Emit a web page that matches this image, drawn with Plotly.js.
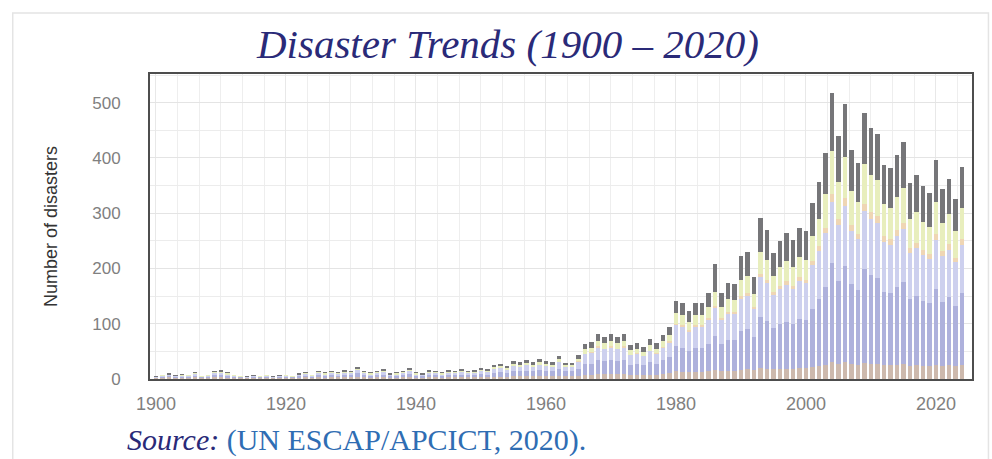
<!DOCTYPE html>
<html>
<head>
<meta charset="utf-8">
<script src="https://cdn.plot.ly/plotly-3.0.1.min.js"></script>
<style>
  html, body { margin: 0; padding: 0; background: #ffffff; }
  #chart { width: 992px; height: 459px; }
</style>
</head>
<body>
<div id="chart"></div>
<script>
// Years 1900 - 2024
const years = [];
for (let y = 1900; y <= 2024; y++) years.push(y);

// Stacked series, values (bottom to top)
const geophysical = [
1,2,3,2,2,2,3,2,2,3, 3,2,2,1,1,2,1,2,1,2,
2,1,2,3,2,3,2,3,3,3, 3,4,3,2,3,3,2,2,3,4,
2,2,3,3,2,3,3,3,3,3, 3,3,4,4,4,5,5,5,5,5,
5,5,6,5,5,6,8,8,9,9, 9,9,9,7,8,7,8,8,9,10,
14,13,12,13,13,14,16,14,15,15, 17,18,16,20,19,18,19,19,19,20,
20,22,24,26,30,28,30,27,26,29, 28,28,26,25,26,27,24,25,24,23,
26,24,25,23,25];

const hydrological = [
1,2,2,2,2,2,3,1,2,4, 4,3,2,2,1,2,2,2,1,2,
2,2,3,3,2,4,3,4,3,4, 4,6,4,3,4,5,3,3,4,5,
3,3,4,4,3,4,4,5,4,4, 6,5,7,8,7,9,9,10,9,11,
10,9,13,9,9,13,19,20,25,23, 25,23,25,19,20,18,22,20,25,30,
45,44,39,44,44,50,62,50,56,55, 70,73,60,92,86,74,80,85,80,88,
86,105,120,140,180,150,175,145,135,170, 160,155,132,130,140,148,120,126,118,114,
136,116,124,110,130];

const meteorological = [
1,2,2,1,2,2,3,1,2,4, 4,3,2,1,1,1,1,2,1,1,
2,1,2,3,2,3,3,4,3,4, 3,6,3,3,4,5,2,3,3,5,
3,2,4,3,3,4,4,5,3,4, 5,5,7,8,6,9,8,10,8,10,
9,8,12,8,8,12,18,19,23,22, 23,22,23,17,18,16,20,18,22,26,
38,37,34,37,38,42,50,42,47,47, 58,60,50,72,68,60,64,67,64,70,
68,80,88,98,110,100,108,95,92,105, 102,100,90,88,92,96,84,86,82,80,
90,82,85,78,88];

const extremeTemperature = [
0,0,0,0,0,0,0,0,0,0, 0,0,0,0,0,0,0,0,0,0,
0,0,0,0,0,0,0,0,0,0, 0,0,0,0,0,0,0,0,0,0,
0,0,0,0,0,0,0,0,0,0, 0,0,0,0,0,0,0,0,0,0,
0,0,0,0,0,1,1,1,2,1, 2,1,2,1,1,1,1,1,2,2,
3,3,3,3,3,4,4,4,4,4, 5,5,4,6,6,5,5,6,5,6,
6,7,8,10,14,12,14,11,10,13, 12,12,10,10,11,11,9,10,9,9,
10,9,10,8,10];

const climatological = [
1,1,1,1,1,1,1,1,1,2, 2,2,1,1,1,1,1,1,1,1,
1,1,1,1,1,2,2,2,2,2, 2,3,2,2,2,2,1,2,2,3,
2,1,2,2,2,2,2,2,2,2, 3,2,3,4,3,4,4,4,4,5,
4,4,5,3,3,5,8,9,10,10, 10,10,10,8,8,7,10,8,10,12,
19,18,16,18,18,20,26,20,22,22, 30,30,24,40,36,30,34,36,34,37,
36,44,50,60,78,66,75,62,58,72, 68,66,58,57,60,63,53,55,52,50,
58,51,54,49,56];

const biological = [
1,1,2,1,2,1,2,1,1,2, 3,2,1,1,1,1,1,1,1,1,
1,1,2,2,1,2,2,2,2,3, 2,3,2,2,2,3,2,2,2,3,
2,2,3,2,2,3,2,3,2,3, 3,3,4,4,4,5,4,5,4,5,
4,4,6,4,4,6,9,10,12,11, 12,11,12,9,10,9,11,10,12,14,
22,22,19,22,22,25,50,25,30,29, 42,44,30,61,54,41,48,51,49,52,
52,60,66,75,105,83,95,74,70,92, 85,82,71,71,76,84,64,67,64,60,
76,61,64,57,74];

const seriesNames = ['Geophysical', 'Hydrological', 'Meteorological', 'Extreme temperature', 'Climatological', 'Biological'];
const seriesValues = [geophysical, hydrological, meteorological, extremeTemperature, climatological, biological];
const seriesColors = ['#cdb9ad', '#aeb1dc', '#cdd0ee', '#efd6b4', '#e8eebd', '#767679'];

const traces = seriesValues.map((vals, i) => ({
  type: 'bar',
  x: years,
  y: vals,
  name: seriesNames[i],
  marker: { color: seriesColors[i], line: { width: 0 } },
  hoverinfo: 'x+y+name'
}));

const xTicks = [1900, 1920, 1940, 1960, 1980, 2000, 2020];

const layout = {
  width: 992,
  height: 459,
  barmode: 'stack',
  bargap: 0.3,
  showlegend: false,
  paper_bgcolor: '#ffffff',
  plot_bgcolor: '#ffffff',
  margin: { l: 150, r: 20, t: 74, b: 80 },
  title: {
    text: '<i>Disaster Trends (1900 – 2020)</i>',
    font: { family: 'Liberation Serif, Times New Roman, serif', size: 41, color: '#2a2a78' },
    x: 0.512, xanchor: 'center', xref: 'container',
    y: 0.905, yanchor: 'middle', yref: 'container'
  },
  xaxis: {
    range: [1899.08, 2025.54],
    tickvals: xTicks,
    ticktext: xTicks.map(String),
    tickfont: { family: 'Liberation Sans, Arial, sans-serif', size: 18, color: '#808080' },
    ticks: '',
    ticklabelstandoff: 7,
    showgrid: true,
    gridcolor: '#e8e8e8',
    gridwidth: 1,
    minor: { dtick: 10 / 3, tick0: 1900, showgrid: true, gridcolor: '#eeeeee', gridwidth: 1 },
    showline: true, mirror: true, linecolor: '#4d4d4d', linewidth: 2,
    zeroline: false,
    fixedrange: true
  },
  yaxis: {
    range: [0, 552],
    dtick: 100,
    tick0: 0,
    tickfont: { family: 'Liberation Sans, Arial, sans-serif', size: 17, color: '#808080' },
    ticks: '',
    ticklabelstandoff: 24,
    showgrid: true,
    gridcolor: '#e4e4e4',
    gridwidth: 1,
    minor: { dtick: 50, showgrid: true, gridcolor: '#ececec', gridwidth: 1 },
    showline: true, mirror: true, linecolor: '#4d4d4d', linewidth: 2,
    zeroline: false,
    title: {
      text: 'Number of disasters',
      font: { family: 'Liberation Sans, Arial, sans-serif', size: 18, color: '#333333' },
      standoff: 30
    },
    fixedrange: true
  },
  shapes: [{
    type: 'rect', xref: 'paper', yref: 'paper',
    x0: -0.167, x1: 1.02, y0: -0.35, y1: 1.2,
    line: { color: '#e4e4e4', width: 1.5 },
    fillcolor: 'rgba(0,0,0,0)', layer: 'below'
  }],
  annotations: [{
    xref: 'paper', yref: 'paper',
    x: -0.03, y: -0.2,
    xanchor: 'left', yanchor: 'middle',
    showarrow: false,
    text: '<i><span style="color:#2a2a78">Source:</span></i> <span style="color:#2f6db3">(UN ESCAP/APCICT, 2020).</span>',
    font: { family: 'Liberation Serif, Times New Roman, serif', size: 30, color: '#2f6db3' }
  }]
};

Plotly.newPlot('chart', traces, layout, { displayModeBar: false, staticPlot: true });
</script>
</body>
</html>
